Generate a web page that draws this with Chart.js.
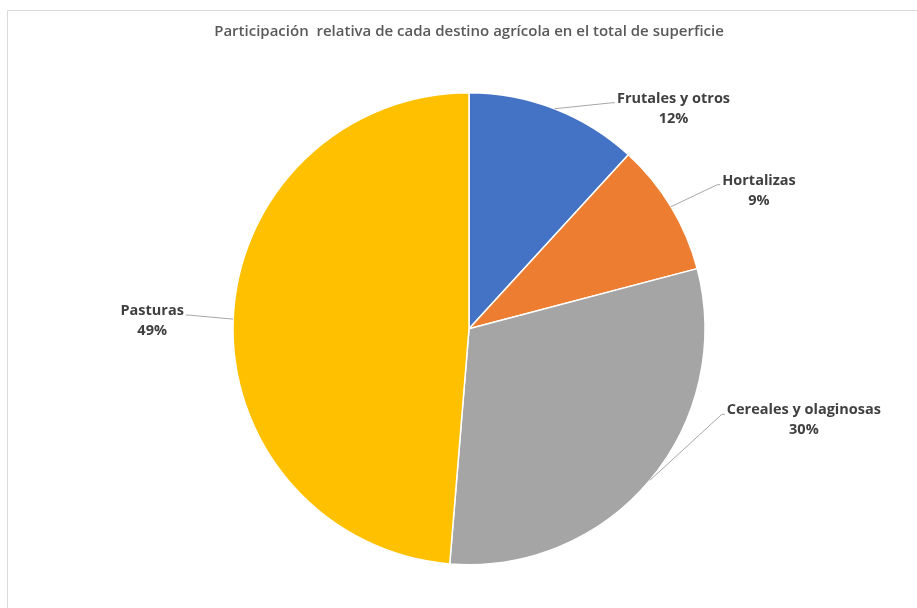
<!DOCTYPE html>
<html>
<head>
<meta charset="utf-8">
<title>Participación relativa de cada destino agrícola</title>
<script src="https://cdn.jsdelivr.net/npm/chart.js@4/dist/chart.umd.min.js"></script>
<style>
  html, body { margin: 0; padding: 0; background: #ffffff; }
  #wrap { position: relative; width: 917px; height: 608px; }
  canvas { display: block; }
</style>
</head>
<body>
<div id="wrap"><canvas id="chart" width="917" height="608"></canvas></div>
<script>
// Share of each agricultural use in the total surface (percent)
const categories = ['Frutales y otros', 'Hortalizas', 'Cereales y olaginosas', 'Pasturas'];
const shares = [11.8, 9.1, 30.4, 48.7];
const colors = ['#4472C4', '#ED7D31', '#A5A5A5', '#FFC000'];
const chartTitle = 'Participación  relativa de cada destino agrícola en el total de superficie';

// Where each callout sits relative to the point on the rim it points to
const calloutOffsets = [
  { dx: 119, dy: -10, side: 'left' },
  { dx: 88, dy: -26, side: 'left' },
  { dx: 154, dy: -70, side: 'left' },
  { dx: -81, dy: -8, side: 'right' }
];

const labelFont = 'bold 14.5px "Open Sans", sans-serif';
const labelColor = '#404040';
const leaderColor = '#A6A6A6';

// Frame line along the top and left of the chart
const framePlugin = {
  id: 'frame',
  beforeDraw(chart) {
    const ctx = chart.ctx;
    ctx.save();
    ctx.strokeStyle = '#D9D9D9';
    ctx.lineWidth = 1;
    ctx.beginPath();
    ctx.moveTo(7.5, chart.height + 2);
    ctx.lineTo(7.5, 10.5);
    ctx.lineTo(chart.width + 2, 10.5);
    ctx.stroke();
    ctx.restore();
  }
};

// Category name + rounded percent next to each slice, joined by a leader line
const calloutPlugin = {
  id: 'callouts',
  afterDatasetsDraw(chart) {
    const ctx = chart.ctx;
    const meta = chart.getDatasetMeta(0);
    const values = chart.data.datasets[0].data;
    const total = values.reduce((a, b) => a + b, 0);
    ctx.save();
    ctx.font = labelFont;
    meta.data.forEach((arc, i) => {
      const p = arc.getProps(['x', 'y', 'startAngle', 'endAngle', 'outerRadius'], true);
      const mid = (p.startAngle + p.endAngle) / 2;
      const rimX = p.x + Math.cos(mid) * p.outerRadius;
      const rimY = p.y + Math.sin(mid) * p.outerRadius;
      const off = calloutOffsets[i];
      const cx = rimX + off.dx;
      const cy = rimY + off.dy;
      const name = chart.data.labels[i];
      const pct = Math.round(values[i] / total * 100) + '%';
      const w = ctx.measureText(name).width;
      const edgeX = off.side === 'left' ? cx - w / 2 - 2 : cx + w / 2 + 2;
      const elbowX = off.side === 'left' ? edgeX - 3 : edgeX + 3;
      const lineY = cy + 4;

      ctx.strokeStyle = leaderColor;
      ctx.lineWidth = 1;
      ctx.beginPath();
      ctx.moveTo(rimX, rimY);
      ctx.lineTo(elbowX, lineY);
      ctx.lineTo(edgeX, lineY);
      ctx.stroke();

      ctx.fillStyle = labelColor;
      ctx.textAlign = 'center';
      ctx.textBaseline = 'middle';
      ctx.fillText(name, cx, cy);
      ctx.fillText(pct, cx, cy + 20);
    });
    ctx.restore();
  }
};

new Chart(document.getElementById('chart'), {
  type: 'pie',
  data: {
    labels: categories,
    datasets: [{
      data: shares,
      backgroundColor: colors,
      borderColor: '#FFFFFF',
      borderWidth: 1.5
    }]
  },
  options: {
    responsive: false,
    animation: false,
    layout: { padding: { top: 10, left: 31, right: 10, bottom: 42.5 } },
    plugins: {
      legend: { display: false },
      tooltip: { enabled: false },
      title: {
        display: true,
        text: chartTitle,
        color: '#595959',
        font: { family: '"Open Sans", sans-serif', size: 15, weight: '600', lineHeight: 1.2 },
        padding: { top: 13, bottom: 51 }
      }
    }
  },
  plugins: [framePlugin, calloutPlugin]
});
</script>
</body>
</html>
